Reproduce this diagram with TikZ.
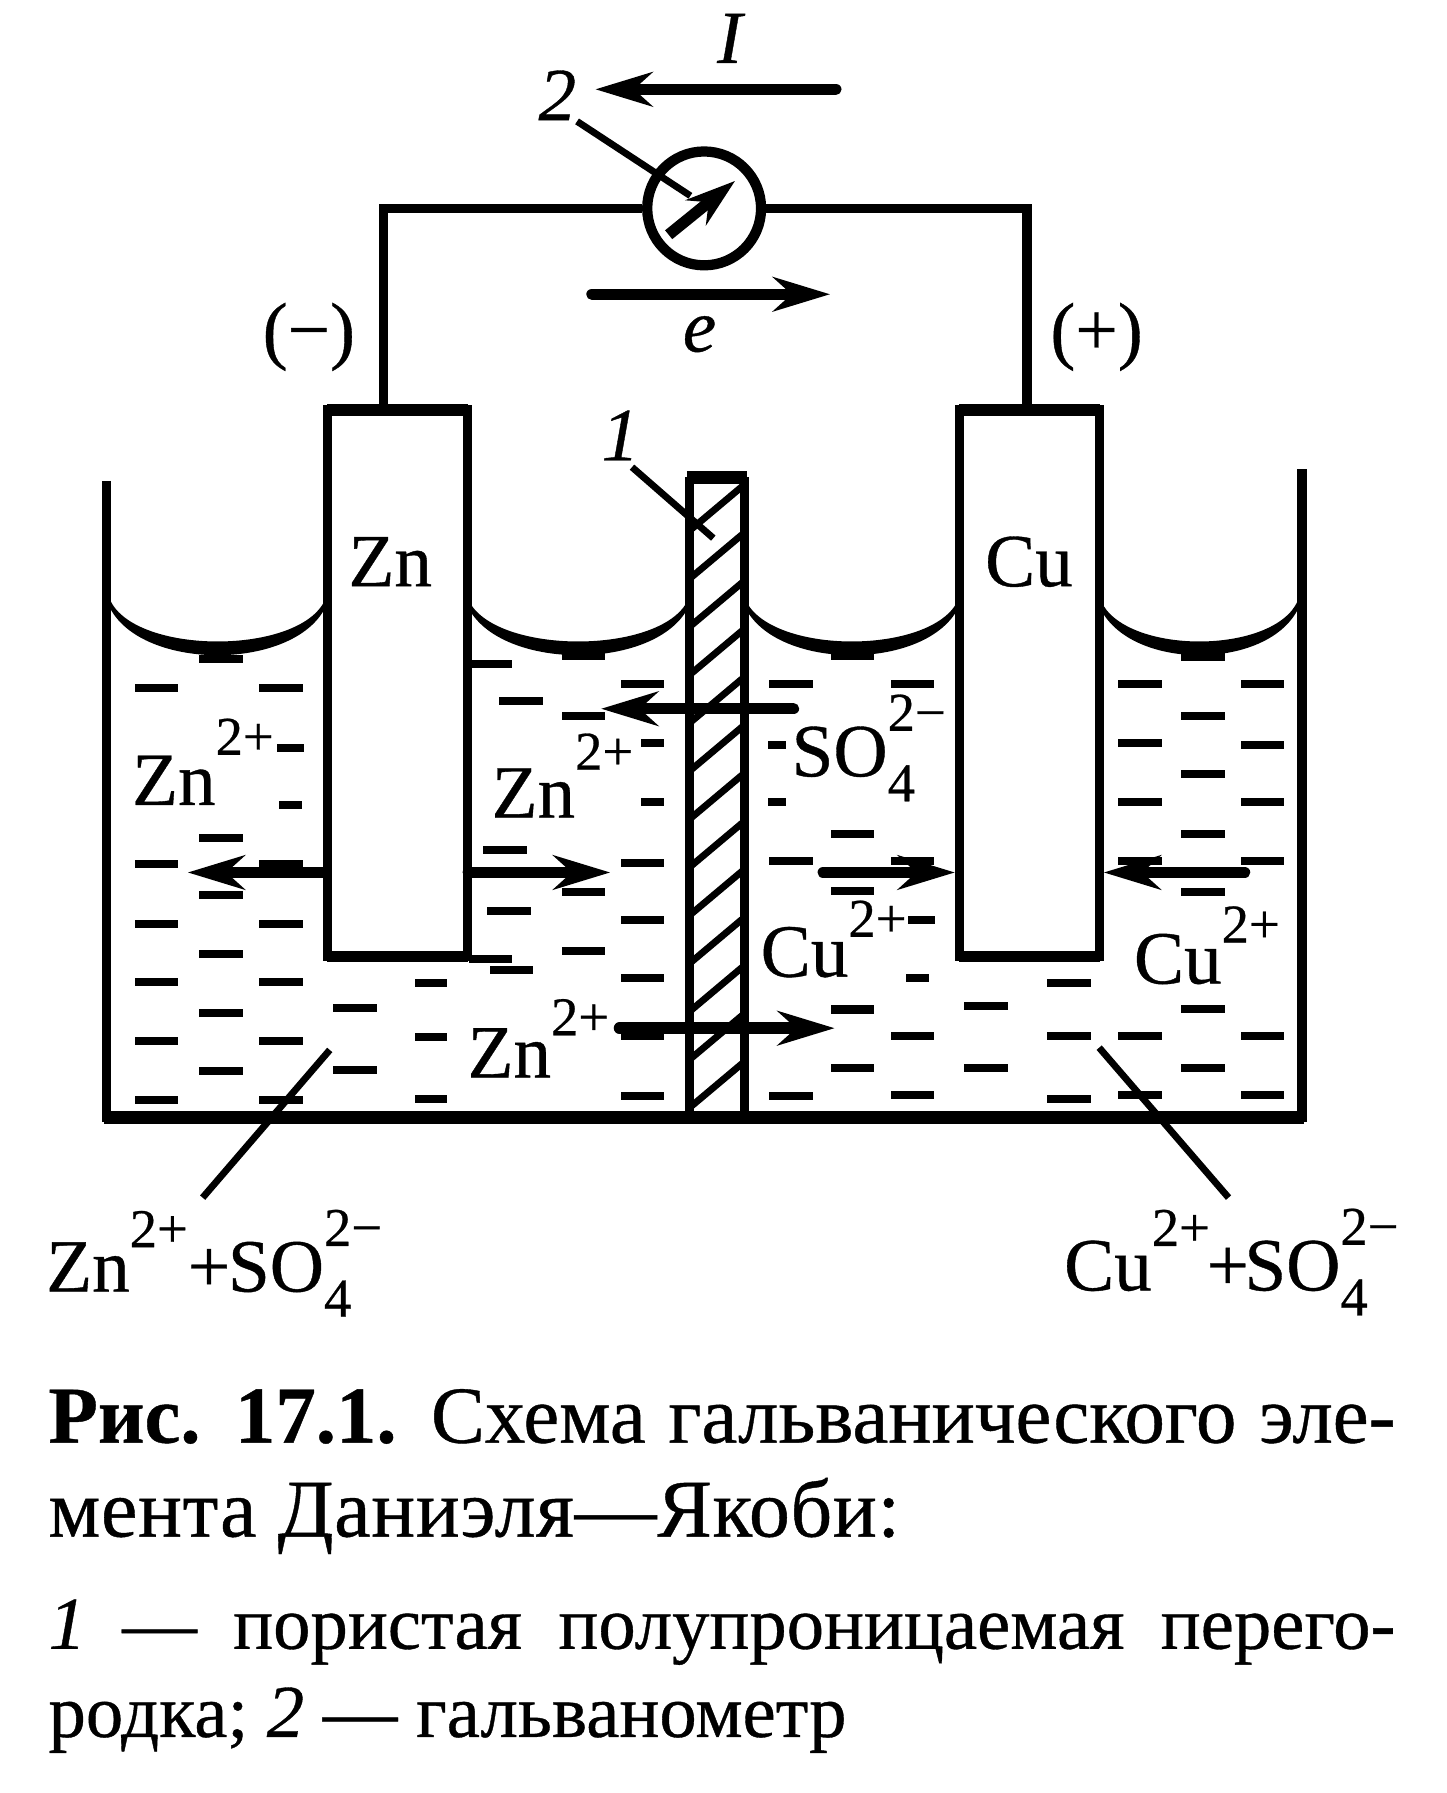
\documentclass[tikz,border=0pt]{standalone}
\usepackage{fontspec}
\setmainfont{Liberation Serif}
\usetikzlibrary{arrows.meta,calc}
\newcommand{\heavy}{\addfontfeature{FakeBold=0.5}}
\newcommand{\ionsup}[2][20pt]{\raisebox{#1}{\fontsize{24}{24}\selectfont\heavy #2}}
\newcommand{\ionsub}[1]{\raisebox{-11pt}{\fontsize{24}{24}\selectfont\heavy #1}}
\newcommand{\sofour}{SO\rlap{\ionsup[20pt]{2−}}\ionsub{4}}
\newcommand{\menisc}[2]{\filldraw[line width=1.5pt] (#1,525) .. controls ({#1+0.12*(#2-#1)},586) and ({#2-0.12*(#2-#1)},586) .. (#2,525)
  .. controls ({#2-0.12*(#2-#1)},574) and ({#1+0.12*(#2-#1)},574) .. (#1,525);}
\tikzset{
  wire/.style={line width=4.2pt,line join=miter},
  lab/.style={inner sep=0pt,anchor=base west,font=\fontsize{33}{33}\selectfont\heavy},
  itlab/.style={lab,font=\fontsize{33}{33}\selectfont\itshape\heavy},
  capt/.style={inner sep=0pt,anchor=base west,font=\fontsize{35.5}{36}\selectfont\heavy},
  captm/.style={inner sep=0pt,anchor=base west,font=\fontsize{36}{36}\selectfont\heavy},
  captb/.style={inner sep=0pt,anchor=base west,font=\fontsize{32.8}{33}\selectfont\heavy},
  bigarrow/.style={line width=5pt,-{Stealth[length=25pt,width=15pt]},line cap=round},
  leader/.style={line width=3pt},
  electrode/.style={draw,line width=4pt,fill=white,inner sep=0pt,outer sep=0pt,anchor=north west,minimum width=61.5pt,minimum height=240pt},
}
\begin{document}
\begin{tikzpicture}[x=0.5028pt,y=-0.5028pt]
\useasboundingbox (0,0) rectangle (1263,1566);
% dashes
\foreach \zx/\zy/\w in {
240/135/38,170/198/38,305/198/38,315/333/24,315/460/20,240/532/38,170/590/38,305/590/38,240/660/38,170/725/38,305/725/38,
240/792/38,170/853/38,305/853/38,240/923/38,170/985/38,305/985/38,240/1052/38,170/1117/38,305/1117/38,
385/912/38,468/855/28,385/1050/38,468/977/28,468/1115/28,
532/145/38,633/128/38,565/228/38,633/260/38,697/190/38,708/322/20,708/452/20,548/560/38,697/588/38,633/653/38,552/695/38,
697/715/38,633/785/38,532/803/38,555/828/38,697/845/38,697/975/38,697/1107/38,
925/128/38,858/190/38,990/190/38,843/325/16,843/452/16,925/523/38,858/585/38,990/585/38,925/650/38,1000/715/24,995/845/20,
1160/855/38,925/915/38,1070/908/38,990/975/38,1160/975/38,925/1045/38,1070/1045/38,858/1107/38,990/1105/38,1160/1115/38,
1305/130/38,1237/190/38,1370/190/38,1305/260/38,1237/322/38,1370/325/38,1305/390/38,1237/452/38,1370/452/38,1305/523/38,
1237/585/38,1370/585/38,1305/653/38,1305/913/38,1237/975/38,1370/975/38,1305/1045/38,1237/1105/38,1370/1105/38}
{\fill ({\zx*0.805-\w/2},{523+\zy*0.392-3.5}) rectangle ++(\w,7);}
% tank
\draw[wire] (93,420) -- (93,976) -- (1137,976) -- (1137,410);
\draw[line width=5.5pt] (91,976) -- (1139,976);
% menisci
\menisc{95}{285}
\menisc{408}{602}
\menisc{650}{838}
\menisc{960}{1135}
% electrodes
\node[electrode] (zn) at (286,358) {};
\node[electrode] (cu) at (838,358) {};
\draw[line width=5pt] (zn.north west) -- (zn.north east) (zn.south west) -- (zn.south east);
\draw[line width=5pt] (cu.north west) -- (cu.north east) (cu.south west) -- (cu.south east);
% diaphragm
\coordinate (d1) at (602,976);
\coordinate (d2) at (602,417);
\coordinate (d3) at (650,417);
\coordinate (d4) at (650,976);
\draw[line width=4pt] (d1) -- (d2) (d3) -- (d4);
\draw[line width=5.5pt] ($(d2)+(-2,0)$) -- ($(d3)+(2,0)$);
\foreach \k in {0,...,12}
  {\draw[line width=3pt] (604,{462+42*\k}) -- (648,{425+42*\k});}
% circuit
\node[circle,draw,line width=4.5pt,inner sep=0pt,minimum size=50pt] (meter) at (615,182) {};
\coordinate (wl) at (335,358);
\coordinate (wr) at (897,358);
\draw[wire] (wl) |- (meter.west);
\draw[wire] (wr) |- (meter.east);
\coordinate (ga) at (584,205);
\coordinate (gb) at (642,158);
\draw[line width=5pt,-{Stealth[length=22pt,width=14pt]}] (ga) -- (gb);
% arrows
\coordinate (ia) at (730,78); \coordinate (ib) at (520,78);
\draw[bigarrow] (ia) -- (ib);
\coordinate (ea) at (517,257); \coordinate (eb) at (725,257);
\draw[bigarrow] (ea) -- (eb);
\coordinate (a1) at (693,619); \coordinate (a2) at (525,619);
\draw[bigarrow] (a1) -- (a2);
\coordinate (a3) at (284,762); \coordinate (a4) at (164,762);
\draw[bigarrow] (a3) -- (a4);
\coordinate (a5) at (409,762); \coordinate (a6) at (533,762);
\draw[bigarrow] (a5) -- (a6);
\coordinate (a7) at (719,762); \coordinate (a8) at (834,762);
\draw[bigarrow] (a7) -- (a8);
\coordinate (a9) at (1087,762); \coordinate (a10) at (964,762);
\draw[bigarrow] (a9) -- (a10);
\coordinate (a11) at (541,898); \coordinate (a12) at (729,898);
\draw[bigarrow] (a11) -- (a12);
% labels
\node[itlab] (lI) at (626,55) {I};
\node[itlab] (l2) at (470,105) {2};
\node[itlab] (l1) at (525,402) {1};
\node[itlab] (le) at (596,307) {e};
\node[lab] (lm) at (229,310) {(−)};
\node[lab] (lp) at (917,310) {(+)};
\node[lab] (lzn) at (304,512) {Zn};
\node[lab] (lcu) at (860,512) {Cu};
\node[lab] (i1) at (115,703) {Zn\ionsup[22pt]{2+}};
\node[lab] (i2) at (429,714) {Zn\ionsup[21pt]{2+}};
\node[lab] (i3) at (691,678) {\sofour};
\node[lab] (i4) at (664,853) {Cu\ionsup[17.5pt]{2+}};
\node[lab] (i5) at (990,859) {Cu\ionsup[18pt]{2+}};
\node[lab] (i6) at (408,941) {Zn\ionsup[18.5pt]{2+}};
\node[lab] (i7) at (40,1128) {Zn\ionsup[19.5pt]{2+}+\hspace{-1pt}\sofour};
\node[lab] (i8) at (929,1127) {Cu\ionsup[19.5pt]{2+}\hspace{-1.5pt}+\hspace{-2pt}\sofour};
% leaders
\coordinate (k1) at (504,106); \coordinate (k2) at (603,171);
\draw[leader] (k1) -- (k2);
\coordinate (k3) at (552,408); \coordinate (k4) at (623,470);
\draw[leader] (k3) -- (k4);
\coordinate (k5) at (288,917); \coordinate (k6) at (177,1046);
\draw[leader] (k5) -- (k6);
\coordinate (k7) at (960,915); \coordinate (k8) at (1073,1046);
\draw[leader] (k7) -- (k8);
% caption
\node[capt] (c1) at (42,1260) {\makebox[591.5pt][s]{\textbf{Рис. 17.1.} Схема гальванического эле-}};
\node[captm] (c2) at (42,1342) {\addfontfeature{LetterSpace=0.8}мента Даниэля—Якоби:};
\node[captb] (c3) at (42,1440) {\makebox[591.5pt][s]{\textit{1} — пористая полупроницаемая перего-}};
\node[captb] (c4) at (42,1517) {родка; \textit{2} — гальванометр};
\end{tikzpicture}
\end{document}
